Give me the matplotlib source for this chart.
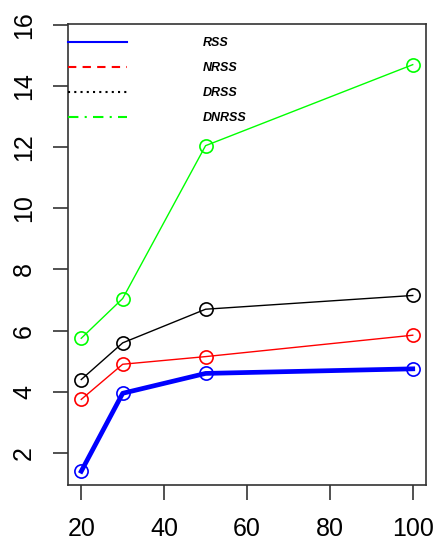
import matplotlib
matplotlib.use("Agg")
import matplotlib.pyplot as plt
from matplotlib.lines import Line2D

plt.rcParams['font.family'] = ['Liberation Sans', 'DejaVu Sans']

# sample sizes and the four estimators
n_values = [20, 30, 50, 100]
rss = [1.4, 3.95, 4.6, 4.75]
nrss = [3.75, 4.9, 5.15, 5.85]
drss = [4.4, 5.6, 6.7, 7.15]
dnrss = [5.75, 7.05, 12.05, 14.7]

series_names = ["RSS", "NRSS", "DRSS", "DNRSS"]
x_ticks = [20, 40, 60, 80, 100]
y_ticks = [2, 4, 6, 8, 10, 12, 14, 16]

fig = plt.figure(figsize=(4.34, 5.47), dpi=100)
ax = fig.add_axes([68/434, 1-485/547, 358/434, 461/547])

ax.plot(n_values, rss, color='#0000ff', lw=3.4, marker='o', ms=9.5,
        mfc='none', mec='#0000ff', mew=1.2)
ax.plot(n_values, nrss, color='#ff0000', lw=1.0, marker='o', ms=9.5,
        mfc='none', mec='#ff0000', mew=1.2)
ax.plot(n_values, drss, color='black', lw=1.0, marker='o', ms=9.5,
        mfc='none', mec='black', mew=1.2)
ax.plot(n_values, dnrss, color='#00ff00', lw=1.0, marker='o', ms=9.5,
        mfc='none', mec='#00ff00', mew=1.2)

ax.set_xlim(16.8, 103.2)
ax.set_ylim(0.95, 16.03)
ax.set_xticks(x_ticks)
ax.set_yticks(y_ticks)
ax.tick_params(direction='out', length=11, width=1.2, color='#333333',
               labelsize=18, pad=12)
for lab in ax.get_yticklabels():
    lab.set_rotation(90)
    lab.set_va('center')
for sp in ax.spines.values():
    sp.set_color('#333333')
    sp.set_linewidth(1.2)

handles = [
    Line2D([], [], color='#0000ff', lw=1.5, ls='-'),
    Line2D([], [], color='#ff0000', lw=1.5, ls=(0, (4, 3))),
    Line2D([], [], color='black', lw=1.5, ls=(0, (1, 2))),
    Line2D([], [], color='#00ff00', lw=1.5, ls=(0, (5, 3, 1, 3))),
]
ax.legend(handles, series_names, loc='upper left', frameon=False,
          bbox_to_anchor=(0, 0.972), borderaxespad=0, borderpad=0,
          handlelength=4.7, handletextpad=6.1, labelspacing=1.05,
          prop={'size': 9, 'weight': 'bold', 'style': 'italic'})

fig.savefig("out.png", dpi=100)
